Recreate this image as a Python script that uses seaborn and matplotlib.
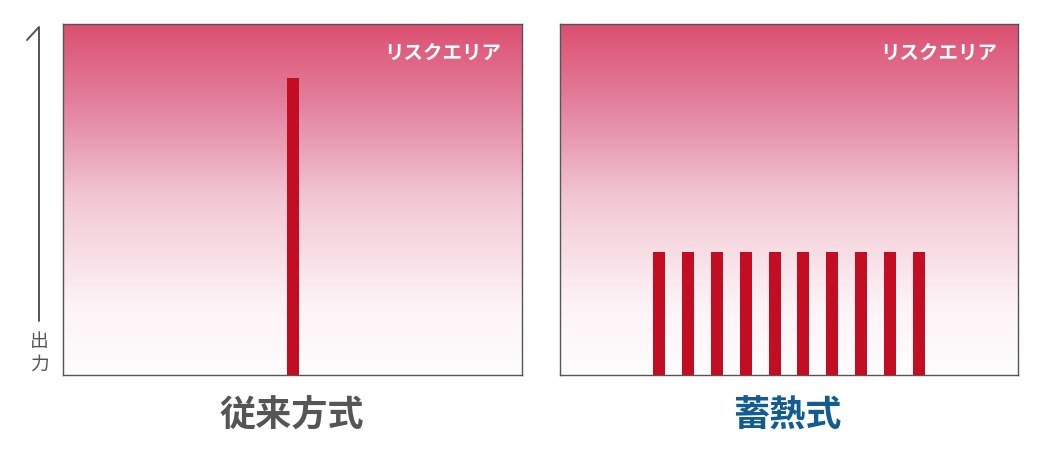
import numpy as np
import pandas as pd
import matplotlib
matplotlib.use("Agg")
import matplotlib.pyplot as plt
from matplotlib.colors import LinearSegmentedColormap
from matplotlib.lines import Line2D
import seaborn as sns

# ---- data ----
panel_titles = ["従来方式", "蓄熱式"]
risk_label = "リスクエリア"
axis_label = "出力"
conventional_output = [84.5]
thermal_storage_output = [35, 35, 35, 35, 35, 35, 35, 35, 35, 35]

sns.set_style("white")
plt.rcParams["font.family"] = ["Noto Sans CJK JP", "DejaVu Sans"]

W, H = 1042, 452
fig = plt.figure(figsize=(W / 100, H / 100), dpi=100)

bar_color = "#c30d23"
frame_color = "#555555"
title_colors = ["#555555", "#125c8f"]
grad_cmap = LinearSegmentedColormap.from_list(
    "risk",
    [(0.0, "#fefdfd"), (0.2, "#fdf3f6"), (0.5, "#f2c8d4"),
     (0.78, "#e37f9c"), (1.0, "#dc4f71")],
)

panels = [
    (63, 522, conventional_output),
    (560, 1018, thermal_storage_output),
]
top_px, bot_px = 25, 376
spacing_px = 28.8
bar_px = 12

for i, (x0, x1, values) in enumerate(panels):
    ax = fig.add_axes([x0 / W, 1 - bot_px / H, (x1 - x0) / W, (bot_px - top_px) / H])
    n = len(values)
    df = pd.DataFrame({"slot": [str(k) for k in range(n)], "output": values})
    sns.barplot(data=df, x="slot", y="output", ax=ax, color=bar_color,
                width=bar_px / spacing_px, saturation=1, linewidth=0,
                edgecolor="none", zorder=3)
    half = (x1 - x0) / spacing_px / 2
    c = (n - 1) / 2
    xl = (c - half, c + half)
    grad = np.linspace(0, 1, 256).reshape(-1, 1)
    ax.imshow(grad, extent=[xl[0], xl[1], 0, 100], origin="lower",
              aspect="auto", cmap=grad_cmap, zorder=0, interpolation="bilinear")
    ax.set_xlim(*xl)
    ax.set_ylim(0, 100)
    ax.set_xticks([])
    ax.set_yticks([])
    ax.set_xlabel("")
    ax.set_ylabel("")
    for s in ax.spines.values():
        s.set_visible(True)
        s.set_color(frame_color)
        s.set_linewidth(1.0)
    ax.text(1 - 21 / (x1 - x0), (bot_px - 53) / (bot_px - top_px), risk_label,
            transform=ax.transAxes, ha="right", va="center", color="white",
            fontsize=14, fontweight="bold", zorder=5)
    fig.text(((x0 + x1) / 2 + (-0.5 if i == 0 else -2)) / W, 1 - 416 / H, panel_titles[i],
             ha="center", va="center", fontsize=26, fontweight=600,
             color=title_colors[i])

# output axis arrow
pts = np.array([(39, 322), (39, 28), (27, 41)], dtype=float)
fig.add_artist(Line2D(pts[:, 0] / W, 1 - pts[:, 1] / H, transform=fig.transFigure,
                      color=frame_color, linewidth=1.4))
fig.text(39 / W, 1 - 342 / H, axis_label[0], ha="center", va="center",
         fontsize=13.5, color=frame_color)
fig.text(39 / W, 1 - 364 / H, axis_label[1], ha="center", va="center",
         fontsize=13.5, color=frame_color)

fig.savefig("out.png", dpi=100)
